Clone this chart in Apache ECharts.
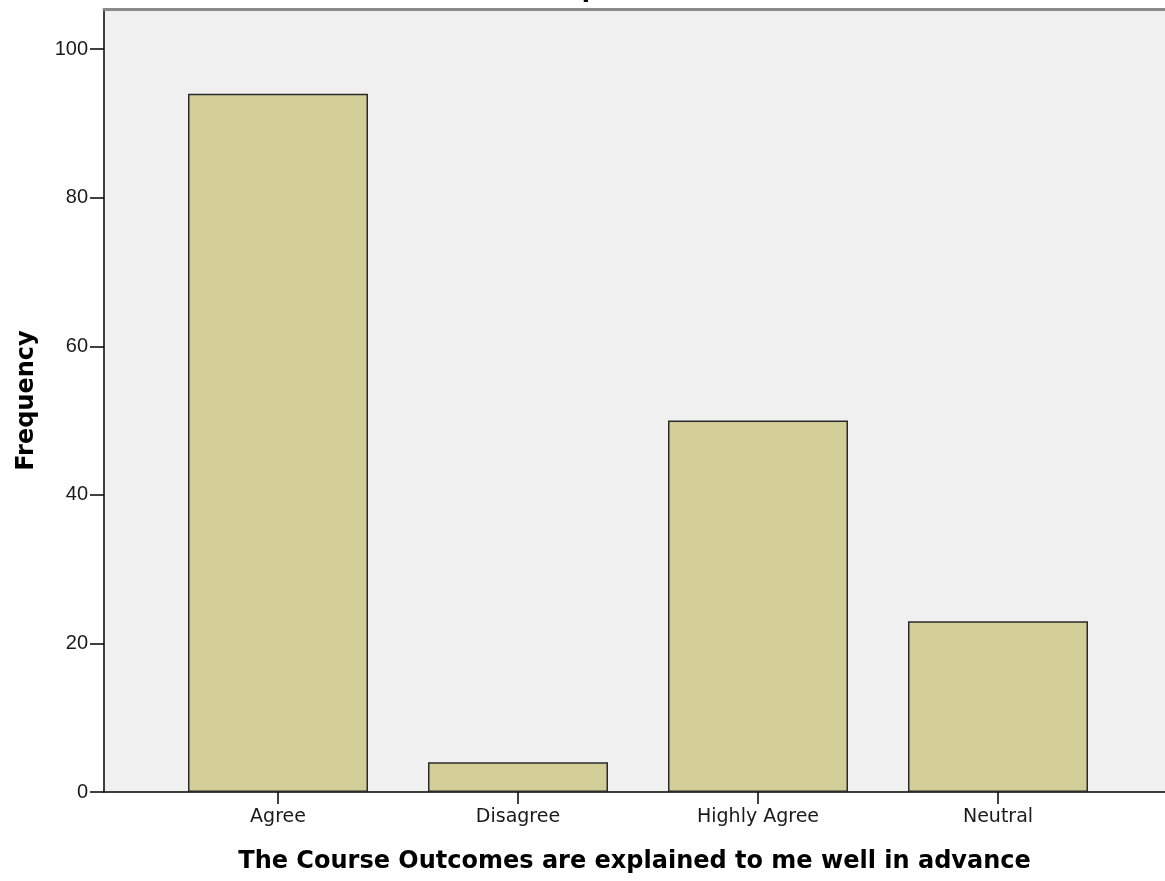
<!DOCTYPE html>
<html>
<head>
<meta charset="utf-8">
<script src="https://cdn.jsdelivr.net/npm/echarts@6/dist/echarts.min.js"></script>
<style>
html,body{margin:0;padding:0;background:#fff;}
#chart{width:1165px;height:881px;}
</style>
</head>
<body>
<div id="chart"></div>
<script>
const categories = ['Agree', 'Disagree', 'Highly Agree', 'Neutral'];
const frequencies = [94, 4, 50, 23];
const yTicks = [0, 20, 40, 60, 80, 100];
const titleText = 'The Course Outcomes are explained to me well in advance';
const yName = 'Frequency';

const FONT = '"Liberation Sans", Arial, sans-serif';
const BOLD = '"DejaVu Sans", sans-serif';
const yMin = 0, yMax = 105.4;

const chart = echarts.init(document.getElementById('chart'), null, {renderer: 'canvas'});
chart.setOption({
  animation: false,
  backgroundColor: '#ffffff',
  title: {
    text: titleText,
    left: 585,
    textAlign: 'center',
    top: -26,
    textStyle: {fontFamily: BOLD, fontSize: 24, fontWeight: 'bold', color: '#000'}
  },
  grid: [
    {left: 104, right: 0, top: 9, bottom: 89, show: true, backgroundColor: '#f0f0f0', borderWidth: 0, containLabel: false},
    {left: 158, width: 960, top: 9, bottom: 89, containLabel: false}
  ],
  xAxis: [
    {
      type: 'category', gridIndex: 0, data: [''], position: 'bottom',
      axisLine: {show: true, lineStyle: {color: '#000', width: 1.5}},
      axisTick: {show: false}, axisLabel: {show: false}, splitLine: {show: false},
      name: titleText, nameLocation: 'middle', nameGap: 58,
      nameTextStyle: {fontFamily: BOLD, fontSize: 24, fontWeight: 'bold', color: '#000'}
    },
    {
      type: 'category', gridIndex: 0, data: [''], position: 'top',
      axisLine: {show: true, lineStyle: {color: '#8a8a8a', width: 3}},
      axisTick: {show: false}, axisLabel: {show: false}, splitLine: {show: false}
    },
    {
      type: 'category', gridIndex: 1, data: categories, position: 'bottom',
      axisLine: {show: false},
      axisTick: {show: true, alignWithLabel: true, length: 12, lineStyle: {color: '#000', width: 1.5}},
      axisLabel: {fontFamily: '"DejaVu Sans", sans-serif', fontSize: 19, color: '#1a1a1a', margin: 16},
      splitLine: {show: false}
    }
  ],
  yAxis: [
    {
      type: 'value', gridIndex: 0, min: yMin, max: yMax, interval: 20,
      axisLine: {show: true, lineStyle: {color: '#000', width: 1.5}},
      axisTick: {show: true, length: 14, customValues: yTicks, lineStyle: {color: '#000', width: 1.5}},
      axisLabel: {fontFamily: FONT, fontSize: 20, color: '#1a1a1a', margin: 16, customValues: yTicks},
      splitLine: {show: false},
      name: yName, nameLocation: 'middle', nameGap: 65, nameRotate: 90,
      nameTextStyle: {fontFamily: BOLD, fontSize: 24, fontWeight: 'bold', color: '#000'}
    },
    {
      type: 'value', gridIndex: 1, min: yMin, max: yMax, interval: 20, show: false
    }
  ],
  series: [{
    type: 'bar',
    xAxisIndex: 2, yAxisIndex: 1,
    data: frequencies,
    barWidth: 180,
    itemStyle: {color: '#d3ce97', borderColor: '#2a2a2a', borderWidth: 1.5}
  }]
});
</script>
</body>
</html>
